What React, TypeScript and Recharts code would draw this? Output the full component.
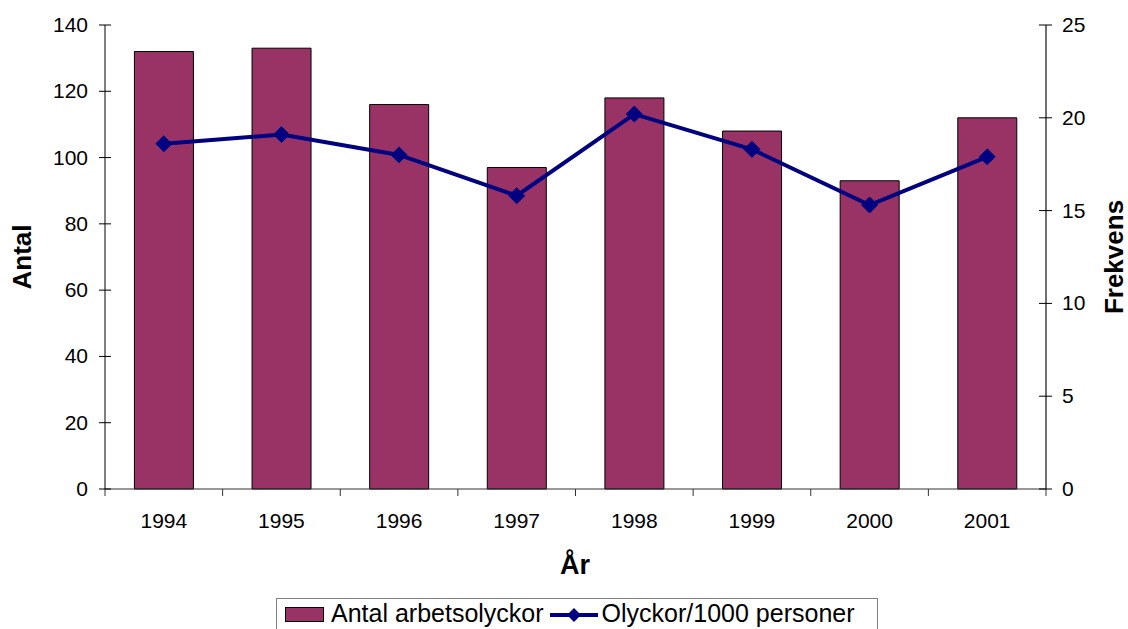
import React from 'react';
import { ComposedChart, Bar, Line, XAxis, YAxis, Legend } from 'recharts';

const years = ['1994', '1995', '1996', '1997', '1998', '1999', '2000', '2001'];
const accidents = [132, 133, 116, 97, 118, 108, 93, 112];
const frequency = [18.6, 19.1, 18.0, 15.8, 20.2, 18.3, 15.3, 17.9];
const leftTicks = [0, 20, 40, 60, 80, 100, 120, 140];
const rightTicks = [0, 5, 10, 15, 20, 25];

const data = years.map((year, i) => ({ year, antal: accidents[i], frekvens: frequency[i] }));

const W = 1128;
const H = 629;
const LEFT_W = 105;
const RIGHT_W = 82;
const PLOT_W = W - LEFT_W - RIGHT_W;
const FONT = '"Liberation Sans", Arial, sans-serif';
const BAR = '#993366';
const LINE = '#000080';

const XTick = (props: any) => {
  const { x, y, payload, index } = props;
  const band = PLOT_W / years.length;
  return (
    <g>
      <line x1={x - band / 2} x2={x - band / 2} y1={y} y2={y + 7} stroke="#333" />
      {index === years.length - 1 && (
        <line x1={x + band / 2} x2={x + band / 2} y1={y} y2={y + 7} stroke="#333" />
      )}
      <text x={x} y={y + 39} textAnchor="middle" fontSize={21} fontFamily={FONT} fill="#000">
        {payload.value}
      </text>
    </g>
  );
};

const LeftTick = (props: any) => {
  const { x, y, payload } = props;
  return (
    <g>
      <line x1={x - 6} x2={x + 6} y1={y} y2={y} stroke="#000" />
      <text x={x - 17} y={y + 7} textAnchor="end" fontSize={21} fontFamily={FONT} fill="#000">
        {payload.value}
      </text>
    </g>
  );
};

const RightTick = (props: any) => {
  const { x, y, payload } = props;
  return (
    <g>
      <line x1={x - 7} x2={x + 6} y1={y} y2={y} stroke="#000" />
      <text x={x + 16} y={y + 7} textAnchor="start" fontSize={21} fontFamily={FONT} fill="#000">
        {payload.value}
      </text>
    </g>
  );
};

const Diamond = (props: any) => {
  const { cx, cy, index } = props;
  if (cx == null || cy == null) return <g key={index} />;
  const r = 8;
  return (
    <polygon
      key={index}
      points={`${cx},${cy - r} ${cx + r},${cy} ${cx},${cy + r} ${cx - r},${cy}`}
      fill={LINE}
      stroke={LINE}
    />
  );
};

const vLabel = (text: string, x: number) => () => (
  <text
    x={x}
    y={257}
    transform={`rotate(-90 ${x} 257)`}
    textAnchor="middle"
    dominantBaseline="central"
    fontSize={26}
    fontWeight="bold"
    fontFamily={FONT}
    fill="#000"
  >
    {text}
  </text>
);

const xLabel = () => (
  <text x={575} y={574} textAnchor="middle" fontSize={27} fontWeight="bold" fontFamily={FONT} fill="#000">
    År
  </text>
);

const LegendBox = () => (
  <div
    style={{
      width: 602,
      height: 40,
      border: '1px solid #808080',
      borderBottom: 'none',
      boxSizing: 'border-box',
      display: 'flex',
      alignItems: 'flex-start',
      paddingTop: 1,
      fontFamily: FONT,
      fontSize: 25,
      color: '#000',
      paddingLeft: 8,
      whiteSpace: 'nowrap',
      lineHeight: '27px',
    }}
  >
    <svg width={40} height={16} style={{ marginRight: 6, marginTop: 7 }}>
      <rect x={0.5} y={0.5} width={38} height={14} fill={BAR} stroke="#000" />
    </svg>
    <span>Antal arbetsolyckor</span>
    <svg width={48} height={16} style={{ margin: '7px 4px 0 6px' }}>
      <line x1={0} x2={48} y1={8} y2={8} stroke={LINE} strokeWidth={4} />
      <polygon points="24,1 31,8 24,15 17,8" fill={LINE} />
    </svg>
    <span>Olyckor/1000 personer</span>
  </div>
);

export default function App() {
  return (
    <div style={{ position: 'absolute', left: 0, top: 0, background: '#fff' }}>
      <ComposedChart
        width={W}
        height={H}
        data={data}
        margin={{ top: 25, right: 0, bottom: 0, left: 0 }}
        barCategoryGap="25%"
      >
        <XAxis
          xAxisId="b"
          dataKey="year"
          height={100}
          tickSize={0}
          tickMargin={0}
          tickLine={false}
          tick={<XTick />}
          axisLine={{ stroke: '#333' }}
          label={xLabel}
          interval={0}
        />
        <XAxis xAxisId="t" dataKey="year" orientation="top" height={0} tick={false} tickLine={false} axisLine={{ stroke: '#808080' }} />
        <YAxis
          yAxisId="l"
          width={LEFT_W}
          domain={[0, 140]}
          ticks={leftTicks}
          tickSize={0}
          tickMargin={0}
          tickLine={false}
          tick={<LeftTick />}
          axisLine={{ stroke: '#000' }}
          label={vLabel('Antal', 22)}
          interval={0}
        />
        <YAxis
          yAxisId="r"
          orientation="right"
          width={RIGHT_W}
          domain={[0, 25]}
          ticks={rightTicks}
          tickSize={0}
          tickMargin={0}
          tickLine={false}
          tick={<RightTick />}
          axisLine={{ stroke: '#404040', strokeWidth: 1.5 }}
          label={vLabel('Frekvens', 1114)}
          interval={0}
        />
        <Bar
          xAxisId="b"
          yAxisId="l"
          dataKey="antal"
          name="Antal arbetsolyckor"
          fill={BAR}
          stroke="#000"
          strokeWidth={1}
          isAnimationActive={false}
        />
        <Line
          xAxisId="b"
          yAxisId="r"
          dataKey="frekvens"
          name="Olyckor/1000 personer"
          stroke={LINE}
          strokeWidth={4}
          dot={Diamond}
          activeDot={false}
          isAnimationActive={false}
        />
        <Legend
          content={<LegendBox />}
          wrapperStyle={{ position: 'absolute', left: 276, top: 598, width: 602, bottom: 'auto' }}
        />
      </ComposedChart>
    </div>
  );
}
